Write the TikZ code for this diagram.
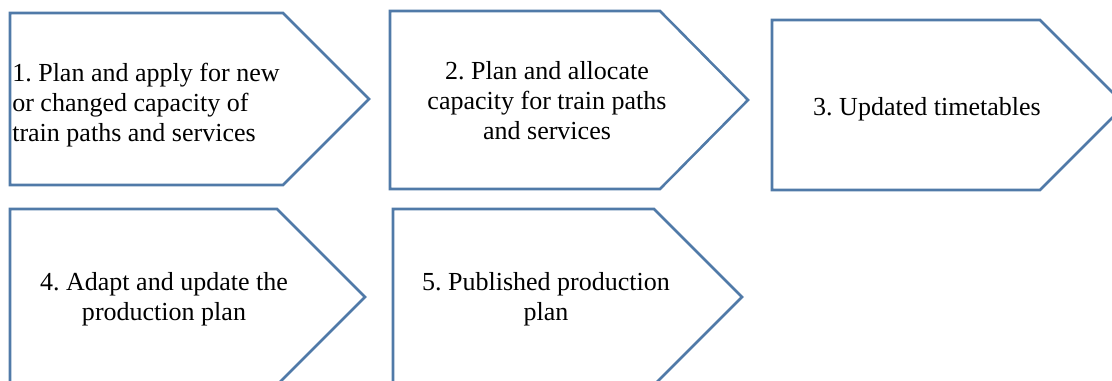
\documentclass[tikz,border=0pt]{standalone}
\usepackage{fontspec}
\setmainfont{Liberation Serif}
\newfontfamily\stagefont{Liberation Serif}
\definecolor{chevblue}{RGB}{80,122,168}

\begin{document}
\begin{tikzpicture}[x=0.025cm,y=-0.025cm,
	stage/.style={draw=chevblue,line width=1.8pt,line join=miter},
	lbl/.style={inner sep=0pt,font=\stagefont\fontsize{18.5}{21.3}\selectfont}]
	\clip (0,0) rectangle (1112,381);
	% top row
	\draw[stage] (10,13) -- (283,13) -- (369,99) -- (283,185) -- (10,185) -- cycle;
	\draw[stage] (390,11) -- (660,11) -- (748,100) -- (660,189) -- (390,189) -- cycle;
	\draw[stage] (772,20) -- (1040,20) -- (1125,105) -- (1040,190) -- (772,190) -- cycle;
	% bottom row
	\draw[stage] (10,209) -- (277,209) -- (365,297) -- (277,385) -- (10,385) -- cycle;
	\draw[stage] (393,209) -- (654,209) -- (742,297) -- (654,385) -- (393,385) -- cycle;
	\node[lbl,anchor=west,align=left] (plan) at (12,105) {1.\ Plan and apply for new\\or changed capacity of\\train paths and services};
	\node[lbl,align=center] (alloc) at (547,101) {2.\ Plan and allocate\\capacity for train paths\\and services};
	\node[lbl] (timetab) at (927,109) {3.\ Updated timetables};
	\node[lbl,align=center] (adapt) at (164,299) {4.\ Adapt and update the\\production plan};
	\node[lbl,align=center] (publ) at (546,299) {5.\ Published production\\plan};
\end{tikzpicture}
\end{document}
